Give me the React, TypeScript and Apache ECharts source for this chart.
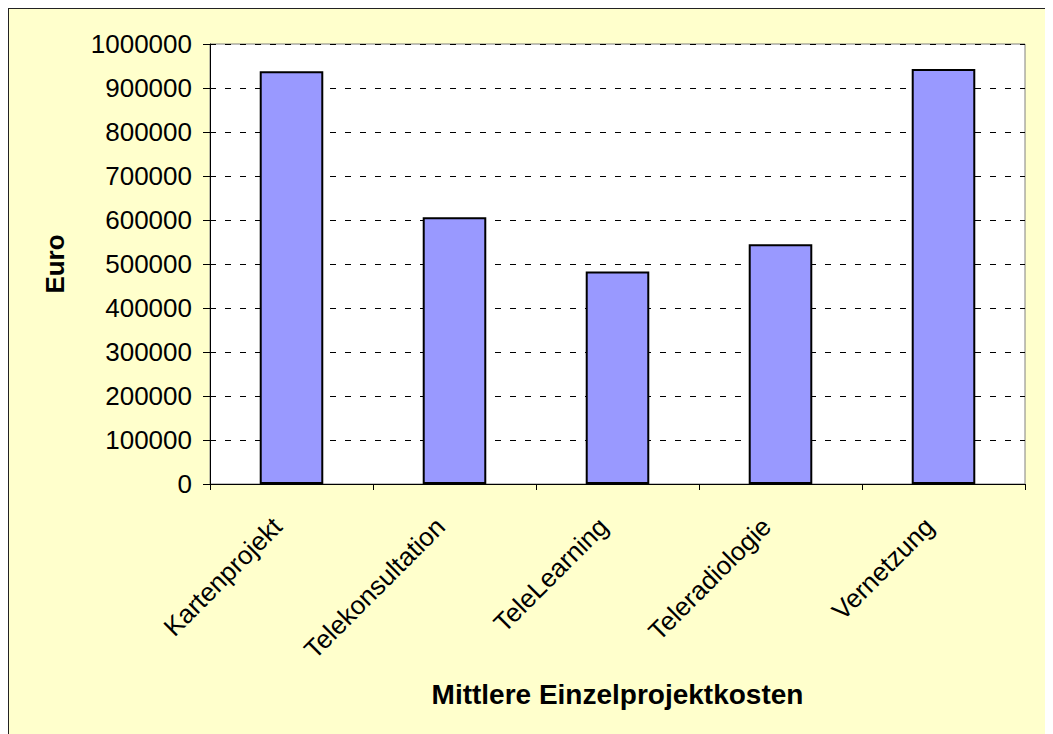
import React, { useEffect, useRef } from "react";
import * as echarts from "echarts";

const categories = ["Kartenprojekt", "Telekonsultation", "TeleLearning", "Teleradiologie", "Vernetzung"];
const costs = [938000, 606000, 483000, 545000, 943000];
const xTitle = "Mittlere Einzelprojektkosten";
const yTitle = "Euro";

export default function App() {
  const ref = useRef<HTMLDivElement>(null);
  useEffect(() => {
    if (!ref.current) return;
    const chart = echarts.init(ref.current, undefined, { renderer: "svg" });
    const font = "Liberation Sans, Arial, sans-serif";
    chart.setOption({
      animation: false,
      textStyle: { fontFamily: font },
      grid: {
        left: 201,
        top: 35,
        right: 28,
        bottom: 250,
        show: true,
        backgroundColor: "#ffffff",
        borderColor: "#808080",
        borderWidth: 1,
        containLabel: false,
      },
      xAxis: {
        type: "category",
        data: categories,
        boundaryGap: true,
        name: xTitle,
        nameLocation: "middle",
        nameGap: 196,
        nameTextStyle: { fontSize: 28, fontWeight: "bold", color: "#000", fontFamily: font },
        axisLine: { show: true, lineStyle: { color: "#000", width: 1 } },
        axisTick: { show: true, length: 6, interval: 0, lineStyle: { color: "#000" } },
        axisLabel: {
          rotate: 45,
          interval: 0,
          margin: 24,
          padding: [0, 20, 0, 0],
          fontSize: 26,
          color: "#000",
          fontFamily: font,
        },
        splitLine: { show: false },
      },
      yAxis: {
        type: "value",
        min: 0,
        max: 1000000,
        interval: 100000,
        name: yTitle,
        nameLocation: "middle",
        nameGap: 142,
        nameRotate: 90,
        nameTextStyle: { fontSize: 26, fontWeight: "bold", color: "#000", fontFamily: font },
        axisLine: { show: true, lineStyle: { color: "#000", width: 1 } },
        axisTick: { show: true, length: 7, lineStyle: { color: "#000" } },
        axisLabel: {
          margin: 18,
          fontSize: 26,
          color: "#000",
          fontFamily: font,
          formatter: (v: number) => String(v),
        },
        splitLine: { show: true, lineStyle: { color: "#000", type: [6, 9], width: 1 } },
      },
      series: [
        {
          type: "bar",
          data: costs,
          barWidth: "39%",
          itemStyle: { color: "#9999FF", borderColor: "#000", borderWidth: 2 },
        },
      ],
    });
    return () => chart.dispose();
  }, []);
  return (
    <div
      style={{
        width: 1044,
        height: 725,
        borderLeft: "1px solid #222",
        borderTop: "1px solid #222",
        background: "#FFFFCC",
      }}
    >
      <div ref={ref} style={{ width: 1044, height: 725 }} />
    </div>
  );
}
